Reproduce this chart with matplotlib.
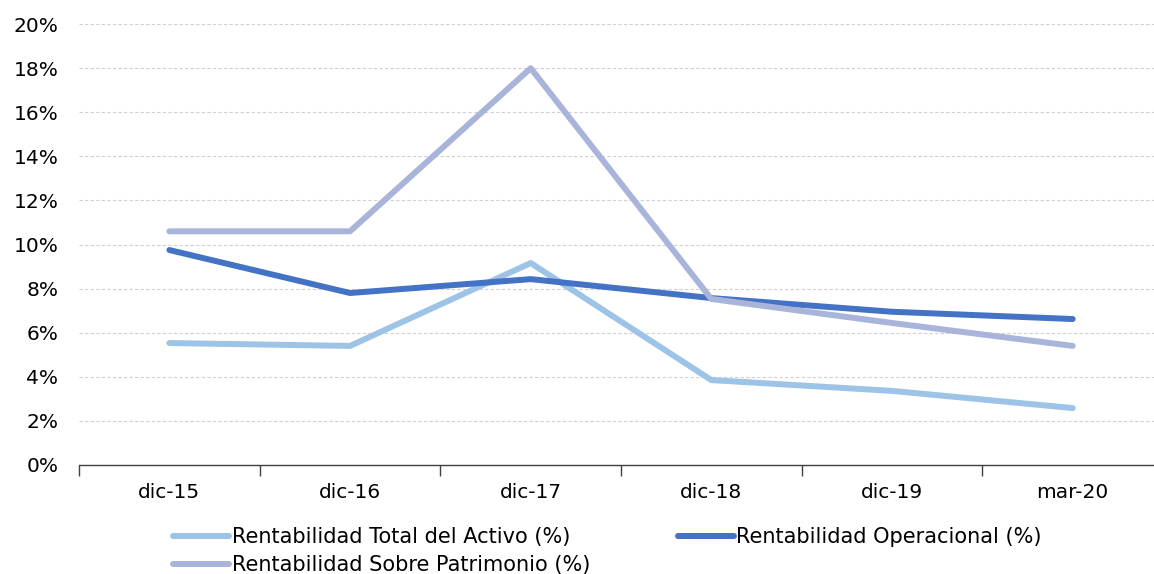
import numpy as np
import matplotlib.pyplot as plt
from matplotlib.ticker import FuncFormatter, MultipleLocator, FixedLocator

categories = ['dic-15', 'dic-16', 'dic-17', 'dic-18', 'dic-19', 'mar-20']
activo = [5.53, 5.40, 9.16, 3.85, 3.36, 2.58]
operacional = [9.75, 7.80, 8.43, 7.57, 6.95, 6.62]
patrimonio = [10.60, 10.60, 18.00, 7.53, 6.44, 5.40]

plt.rcParams['font.family'] = ['DejaVu Sans']

fig = plt.figure(figsize=(11.54, 5.74), dpi=100)
ax = fig.add_axes([0.0685, 0.19, 0.9315, 0.768])

x = np.arange(len(categories))
lw = 4.3
l1, = ax.plot(x, activo, color='#9DC3E6', lw=lw, solid_capstyle='round', solid_joinstyle='round')
l2, = ax.plot(x, operacional, color='#4472C4', lw=lw, solid_capstyle='round', solid_joinstyle='round')
l3, = ax.plot(x, patrimonio, color='#A9B4DA', lw=lw, solid_capstyle='round', solid_joinstyle='round')

ax.set_ylim(0, 20)
ax.set_xlim(-0.5, 5.45)
ax.yaxis.set_major_locator(MultipleLocator(2))
ax.yaxis.set_major_formatter(FuncFormatter(lambda v, p: f'{v:.0f}%'))
ax.grid(axis='y', color='#D0D0D0', linestyle=(0, (3, 2)), linewidth=0.8)
ax.set_axisbelow(True)

ax.set_xticks(x)
ax.set_xticklabels(categories)
ax.xaxis.set_minor_locator(FixedLocator(np.arange(-0.5, 6, 1)))
ax.tick_params(axis='x', which='major', length=0, pad=13, labelsize=14.5)
ax.tick_params(axis='x', which='minor', length=8, width=1, color='#404040', direction='out')
ax.tick_params(axis='y', length=0, pad=15, labelsize=14.5)

for s in ['top', 'right', 'left']:
    ax.spines[s].set_visible(False)
ax.spines['bottom'].set_color('#404040')
ax.spines['bottom'].set_linewidth(1)

# row-major legend order: fill column 1 then column 2
fig.legend([l1, l3, l2],
           ['Rentabilidad Total del Activo (%)', 'Rentabilidad Sobre Patrimonio (%)',
            'Rentabilidad Operacional (%)'],
           ncol=2, loc='upper left', bbox_to_anchor=(0.15, 0.082),
           frameon=False, fontsize=15, handlelength=2.7, handletextpad=0.12,
           columnspacing=4.2, labelspacing=0.38, borderpad=0, borderaxespad=0)

fig.savefig('out.png', dpi=100)
